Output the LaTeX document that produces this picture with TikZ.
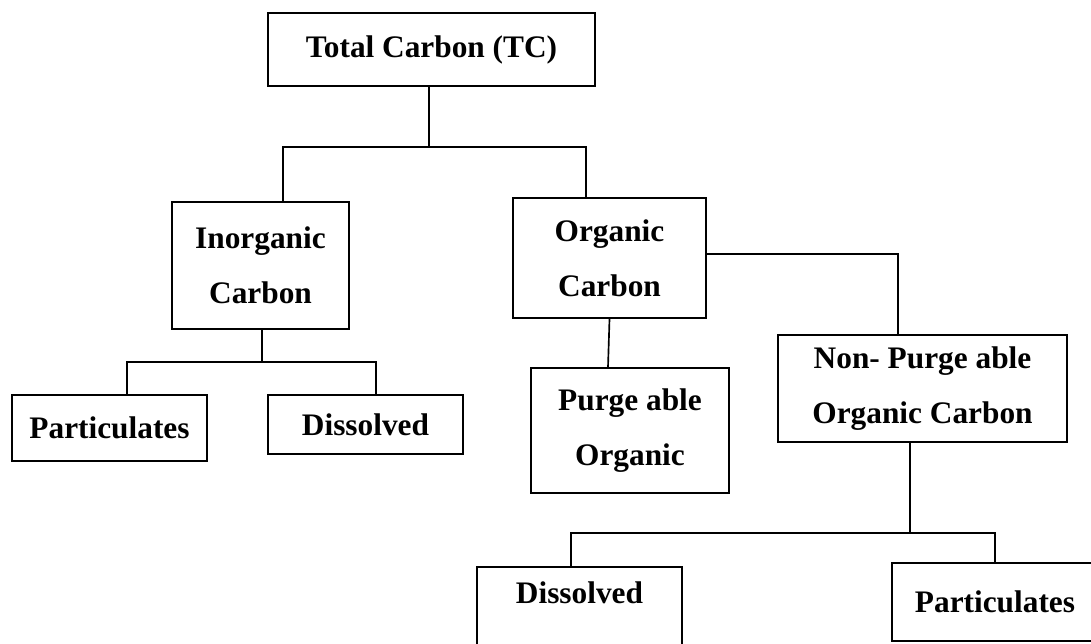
\documentclass[tikz,border=0pt]{standalone}
\usepackage{fontspec}
\setmainfont{Liberation Serif}

\begin{document}
\begin{tikzpicture}[x=0.75pt, y=-0.75pt,
				box/.style={draw, line width=1.2pt, inner sep=0pt, align=center, font=\fontsize{23.5}{41}\selectfont\bfseries},
				link/.style={line width=1.25pt}
				]
				\clip (0,0) rectangle (1091,643);
				
				% ==========================================
				% LEVEL 1: TOTAL CARBON
				% ==========================================
				\node[box, minimum width=245.25pt, minimum height=54.75pt] (tc) at (431.5,49.5) {Total Carbon (TC)};
				
				% ==========================================
				% LEVEL 2: INORGANIC / ORGANIC
				% ==========================================
				\node[box, minimum width=132.75pt, minimum height=95.25pt] (inorg) at (260.5,265.5) {Inorganic\\Carbon};
				\node[box, minimum width=144.75pt, minimum height=90pt] (org) at (609.5,258) {Organic\\Carbon};
				
				\coordinate (tcj) at (429,147);
				\draw[link] ([xshift=-1.9pt]tc.south) -- (tcj);
				\draw[link] ([xshift=16.9pt]inorg.north) |- (tcj) -| ([xshift=-17.6pt]org.north);
				
				% -- inorganic split --
				\node[box, minimum width=146.25pt, minimum height=49.5pt] (part1) at (109.5,428) {Particulates};
				\node[box, minimum width=146.25pt, minimum height=44.25pt] (diss1) at (365.5,424.5) {Dissolved};
				
				\coordinate (icj) at (262,362);
				\draw[link] ([xshift=1.1pt]inorg.south) -- (icj);
				\draw[link] ([xshift=13.1pt]part1.north) |- (icj) -| ([xshift=7.9pt]diss1.north);
				
				% -- organic split --
				\node[box, minimum width=148.5pt, minimum height=93.75pt] (purge) at (630,430.5) {Purge able\\Organic};
				\node[box, minimum width=216.75pt, minimum height=80.25pt] (npoc) at (922.5,388.5) {Non- Purge able\\Organic Carbon};
				
				\draw[link] (org.south) -- ([xshift=-16.5pt]purge.north);
				\draw[link] ([yshift=3pt]org.east) -| ([xshift=-18.4pt]npoc.north);
				
				% ==========================================
				% LEVEL 3: NON-PURGEABLE SPLIT
				% ==========================================
				\node[box, minimum width=153.75pt, text height=27pt, text depth=35.25pt] (diss2) at (579.5,608.5) {Dissolved};
				\node[box, minimum width=154.5pt, minimum height=58.5pt] (part2) at (995,602) {Particulates};
				
				\coordinate (npj) at (910,533);
				\draw[link] ([xshift=-9.4pt]npoc.south) -- (npj);
				\draw[link] ([xshift=-6.4pt]diss2.north) |- (npj) -| (part2.north);
				
			\end{tikzpicture}
\end{document}
